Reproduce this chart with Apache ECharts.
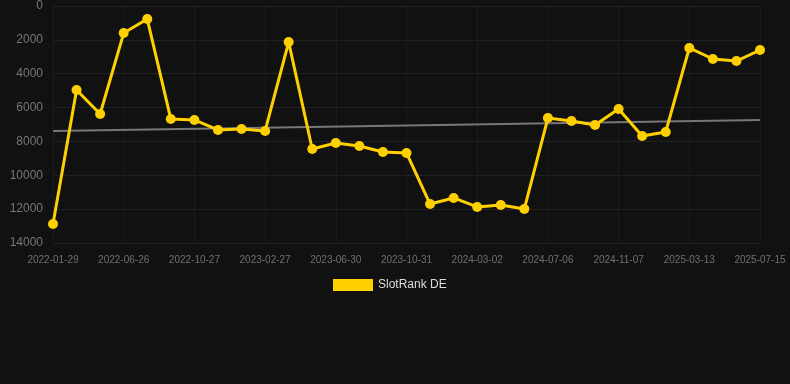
<!DOCTYPE html>
<html><head><meta charset="utf-8">
<script src="https://cdn.jsdelivr.net/npm/echarts@6/dist/echarts.min.js"></script>
<style>html,body{margin:0;padding:0;background:#111111;}#c{width:790px;height:384px;}</style>
</head><body><div id="c"></div>
<script>
var categories = ["2022-01-29","2022-03-10","2022-05-18","2022-06-26","2022-08-05","2022-09-16","2022-10-27","2022-12-07","2023-01-17","2023-02-27","2023-04-08","2023-05-20","2023-06-30","2023-08-10","2023-09-20","2023-10-31","2023-12-11","2024-01-21","2024-03-02","2024-04-13","2024-05-25","2024-07-06","2024-08-16","2024-09-27","2024-11-07","2024-12-18","2025-01-30","2025-03-13","2025-04-23","2025-06-04","2025-07-15"];
var rankDE = [12880,4960,6380,1600,770,6680,6730,7320,7270,7380,2130,8450,8090,8270,8620,8680,11700,11340,11870,11760,11990,6620,6790,7030,6080,7680,7440,2480,3130,3250,2600];
var trendEnds = [7380, 6730];

var trend = categories.map(function(_, i){ return i === 0 ? trendEnds[0] : (i === categories.length-1 ? trendEnds[1] : null); });

var chart = echarts.init(document.getElementById('c'));
chart.setOption({
  backgroundColor: '#111111',
  animation: false,
  grid: {left: 53, right: 30, top: 6, bottom: 141},
  legend: {
    data: [{name: 'SlotRank DE', icon: 'rect'}],
    bottom: 88, left: 328, itemWidth: 40, itemHeight: 12, itemGap: 10,
    textStyle: {color: '#dddddd', fontSize: 12}
  },
  xAxis: {
    type: 'category', data: categories, boundaryGap: false,
    axisLine: {show: false}, axisTick: {show: false},
    axisLabel: {color: '#707070', fontSize: 10, interval: 2, margin: 12},
    splitLine: {show: true, interval: 2, lineStyle: {color: '#1b1b1b'}}
  },
  yAxis: {
    type: 'value', inverse: true, min: 0, max: 14000, interval: 2000,
    axisLine: {show: false}, axisTick: {show: false},
    axisLabel: {color: '#777777', fontSize: 12, margin: 10, formatter: function(v){ return String(v); }},
    splitLine: {lineStyle: {color: '#212121'}}
  },
  series: [
    {
      name: 'SlotRank DE', type: 'line', data: rankDE,
      lineStyle: {color: '#FFD000', width: 3},
      itemStyle: {color: '#FFD000'},
      symbol: 'circle', symbolSize: 10, z: 3
    },
    {
      name: 'trend', type: 'line', data: trend, connectNulls: true,
      lineStyle: {color: '#777777', width: 2},
      symbol: 'none', silent: true, z: 2
    }
  ]
});
</script></body></html>
